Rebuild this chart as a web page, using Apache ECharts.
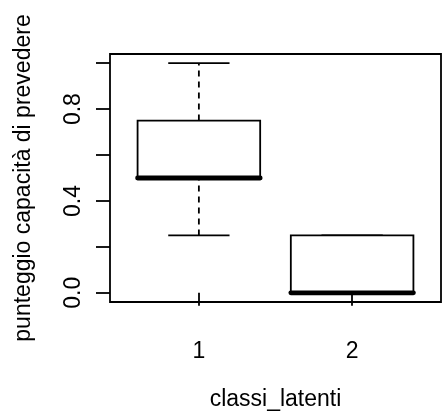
<!DOCTYPE html>
<html>
<head>
<meta charset="utf-8">
<script src="https://cdn.jsdelivr.net/npm/echarts@6/dist/echarts.min.js"></script>
<style>
  html, body { margin: 0; padding: 0; background: #fff; }
  #chart { width: 442px; height: 416px; }
</style>
</head>
<body>
<div id="chart"></div>
<script>
// Five-number summaries per latent class
const classes = [1, 2];
const lowerWhisker = [0.25, 0.0];
const firstQuartile = [0.5, 0.0];
const medians = [0.5, 0.0];
const thirdQuartile = [0.75, 0.25];
const upperWhisker = [1.0, 0.25];

const yTicks = [0, 0.2, 0.4, 0.6, 0.8, 1.0];
const yTickLabels = [0, 0.4, 0.8];

const FONT = 'Liberation Sans, Arial, Helvetica, sans-serif';
const BOX_WIDTH = 0.8;
const LW = 1.8;

const rows = classes.map((c, i) => [
  c, lowerWhisker[i], firstQuartile[i], medians[i], thirdQuartile[i], upperWhisker[i]
]);

function renderBox(params, api) {
  const x = api.value(0);
  const lo = api.coord([x, api.value(1)]);
  const q1 = api.coord([x, api.value(2)]);
  const md = api.coord([x, api.value(3)]);
  const q3 = api.coord([x, api.value(4)]);
  const hi = api.coord([x, api.value(5)]);
  const left = api.coord([x - BOX_WIDTH / 2, 0])[0];
  const right = api.coord([x + BOX_WIDTH / 2, 0])[0];
  const capL = api.coord([x - BOX_WIDTH / 4, 0])[0];
  const capR = api.coord([x + BOX_WIDTH / 4, 0])[0];
  const cx = lo[0];
  const stroke = { stroke: '#000', lineWidth: LW, fill: null };
  const dashed = { stroke: '#000', lineWidth: LW, lineDash: [6, 5] };
  return {
    type: 'group',
    children: [
      { type: 'line', shape: { x1: cx, y1: q3[1], x2: cx, y2: hi[1] }, style: dashed },
      { type: 'line', shape: { x1: cx, y1: lo[1], x2: cx, y2: q1[1] }, style: dashed },
      { type: 'line', shape: { x1: capL, y1: hi[1], x2: capR, y2: hi[1] }, style: stroke },
      { type: 'line', shape: { x1: capL, y1: lo[1], x2: capR, y2: lo[1] }, style: stroke },
      { type: 'rect', shape: { x: left, y: q3[1], width: right - left, height: q1[1] - q3[1] },
        style: { stroke: '#000', lineWidth: LW, fill: '#fff' } },
      { type: 'line', shape: { x1: left, y1: md[1], x2: right, y2: md[1] },
        style: { stroke: '#000', lineWidth: 4.8, lineCap: 'round' } }
    ]
  };
}

const chart = echarts.init(document.getElementById('chart'), null, { renderer: 'canvas' });
chart.setOption({
  animation: false,
  backgroundColor: '#fff',
  textStyle: { fontFamily: FONT },
  grid: {
    left: 110, top: 54, right: 1, bottom: 111,
    show: true, borderColor: '#000', borderWidth: LW, backgroundColor: 'transparent'
  },
  xAxis: {
    type: 'value',
    min: 0.42, max: 2.58,
    name: 'classi_latenti',
    nameLocation: 'middle',
    nameGap: 86,
    nameTextStyle: { fontSize: 23, color: '#000', fontFamily: FONT },
    axisLine: { show: false },
    splitLine: { show: false },
    axisTick: { show: true, customValues: classes, length: 13, inside: false,
      lineStyle: { color: '#000', width: LW } },
    axisLabel: { customValues: classes, margin: 38, fontSize: 23, color: '#000', fontFamily: FONT }
  },
  yAxis: {
    type: 'value',
    min: -0.04, max: 1.04,
    name: 'punteggio capacità di prevedere',
    nameLocation: 'middle',
    nameGap: 75,
    nameTextStyle: { fontSize: 23, color: '#000', fontFamily: FONT },
    axisLine: { show: false },
    splitLine: { show: false },
    axisTick: { show: true, customValues: yTicks, length: 14, inside: false,
      lineStyle: { color: '#000', width: LW } },
    axisLabel: {
      customValues: yTickLabels, rotate: 90, margin: 25, fontSize: 23, color: '#000', fontFamily: FONT,
      formatter: v => v.toFixed(1)
    }
  },
  series: [{
    type: 'custom',
    renderItem: renderBox,
    encode: { x: 0, y: [1, 2, 3, 4, 5] },
    data: rows,
    clip: false
  }]
});
</script>
</body>
</html>
